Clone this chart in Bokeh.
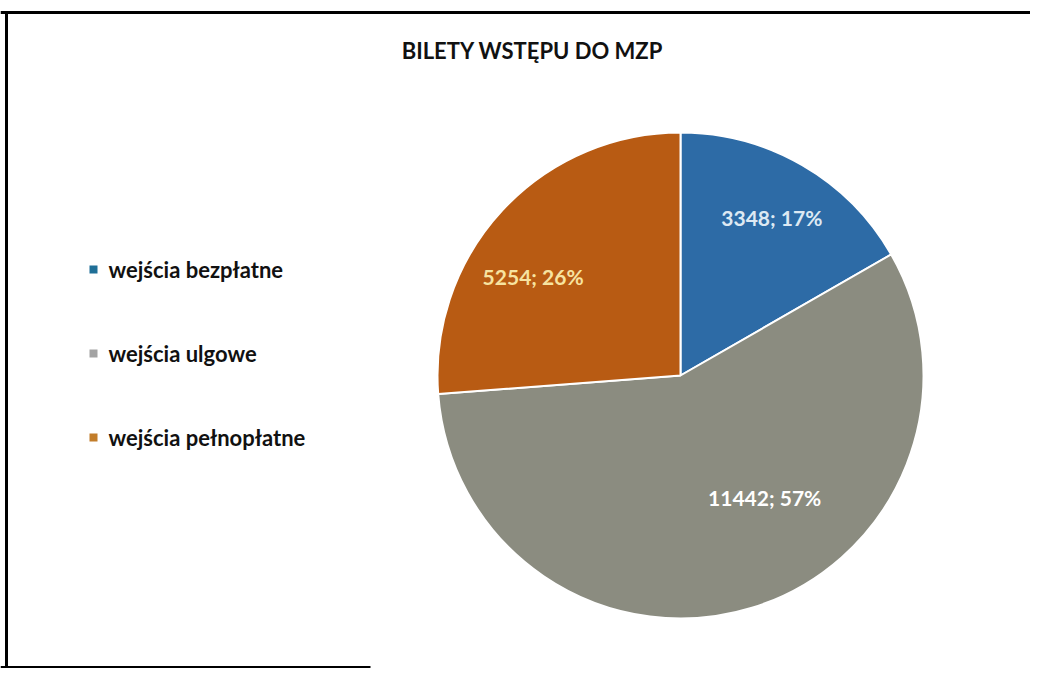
import numpy as np
from bokeh.plotting import figure
from bokeh.models import Range1d, ColumnDataSource
from bokeh.core.properties import value
from bokeh.embed import file_html
from bokeh.resources import INLINE

# ---- data ----
title_text = "BILETY WSTĘPU DO MZP"
categories = ["wejścia bezpłatne", "wejścia ulgowe", "wejścia pełnopłatne"]
counts = [3348, 11442, 5254]
percent_labels = ["17%", "57%", "26%"]

# ---- style ----
slice_colors = ["#2d6ba6", "#8b8c80", "#b85b13"]
legend_colors = ["#1f6f97", "#a3a3a3", "#c27d2a"]
label_colors = ["#dde9f3", "#ffffff", "#f7e3a0"]
FONT = "Lato"

W, H = 1030, 668
p = figure(width=W, height=H, x_range=Range1d(0, W), y_range=Range1d(0, H),
           output_backend="svg", toolbar_location=None, min_border=0,
           background_fill_color="white", border_fill_color="white")
p.axis.visible = False
p.grid.visible = False
p.outline_line_color = None

# pie geometry
cx, cy, r = 680, 293, 243
vals = np.array(counts, dtype=float)
frac = vals / vals.sum()
cum = np.concatenate([[0], np.cumsum(frac)])
start = np.pi / 2 - cum[:-1] * 2 * np.pi
end = np.pi / 2 - cum[1:] * 2 * np.pi
mid = (start + end) / 2

src = ColumnDataSource(dict(x=[cx] * 3, y=[cy] * 3, start=start, end=end,
                            color=slice_colors))
p.wedge(x="x", y="y", radius=r, start_angle="start", end_angle="end",
        direction="clock", fill_color="color", line_color="white",
        line_width=2, source=src)

# data labels (Excel-like placement)
lab_frac = np.array([0.75, 0.61, 0.73])
lab_shift = np.deg2rad(np.array([0.0, 17.5, 9.0]))
lx = cx + r * lab_frac * np.cos(mid + lab_shift)
ly = cy + r * lab_frac * np.sin(mid + lab_shift)
labels = [f"{c}; {pc}" for c, pc in zip(counts, percent_labels)]
p.text(x=lx, y=ly, text=labels, text_color=label_colors,
       text_font=value(FONT), text_font_style="bold", text_font_size="21px",
       text_align="center", text_baseline="middle")

# title
p.text(x=[532], y=[618], text=[title_text], text_color="#111111",
       text_font=value(FONT), text_font_style="bold", text_font_size="22px",
       text_align="center", text_baseline="middle")

# legend
leg_x = 93
leg_y = 399 - np.arange(len(categories)) * 84
p.scatter(x=[leg_x] * 3, y=leg_y, marker="square", size=8,
          fill_color=legend_colors, line_color=None)
p.text(x=[leg_x + 15] * 3, y=leg_y, text=categories, text_color="#111111",
       text_font=value(FONT), text_font_style="bold", text_font_size="22px",
       text_align="left", text_baseline="middle")

# frame borders (scanned box)
p.segment(x0=[0, 6, 0], y0=[656, 0, 1], x1=[W, 6, 370], y1=[656, 656, 1],
          line_color="black", line_width=3)

open("out.html", "w").write(file_html(p, INLINE))
